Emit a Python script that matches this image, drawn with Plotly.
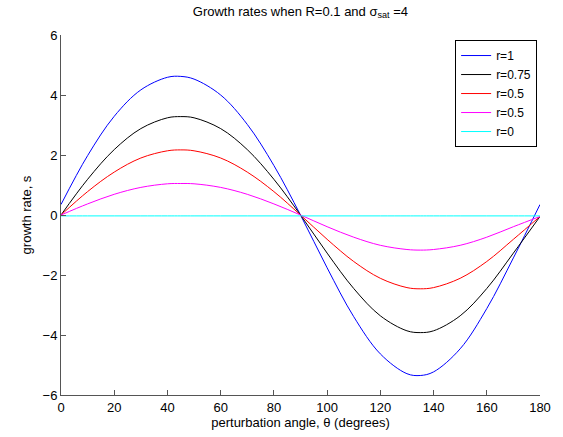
import plotly.graph_objects as go

# perturbation angle samples (degrees)
theta = [0, 10, 20, 30, 40, 45, 50, 60, 70, 80, 90,
         100, 110, 120, 130, 135, 140, 150, 160, 170, 180]

# growth rate s for each r
s_r1 = [0.35, 1.98, 3.29, 4.17, 4.59, 4.62, 4.53, 4.00, 3.02, 1.65, 0.0,
        -1.76, -3.39, -4.63, -5.29, -5.35, -5.23, -4.46, -3.12, -1.43, 0.35]
s_r075 = [0.0, 1.19, 2.18, 2.88, 3.24, 3.28, 3.24, 2.88, 2.18, 1.19, 0.0,
          -1.27, -2.45, -3.36, -3.86, -3.92, -3.86, -3.36, -2.45, -1.27, -0.05]
s_r05 = [0.0, 0.78, 1.43, 1.90, 2.14, 2.17, 2.14, 1.90, 1.43, 0.78, 0.0,
         -0.81, -1.55, -2.11, -2.42, -2.46, -2.42, -2.11, -1.55, -0.81, -0.05]
s_r05b = [0.0, 0.37, 0.69, 0.92, 1.04, 1.05, 1.04, 0.92, 0.69, 0.37, 0.0,
          -0.39, -0.74, -1.01, -1.15, -1.17, -1.15, -1.01, -0.74, -0.39, -0.05]
s_r0 = [-0.03] * len(theta)

names = ["r=1", "r=0.75", "r=0.5", "r=0.5", "r=0"]
colors = ["#0000ff", "#000000", "#ff0000", "#ff00ff", "#00ffff"]
series = [s_r1, s_r075, s_r05, s_r05b, s_r0]

xticks = [0, 20, 40, 60, 80, 100, 120, 140, 160, 180]
yticks = [-6, -4, -2, 0, 2, 4, 6]

FONT = "Liberation Sans, Arial"

fig = go.Figure()
for name, col, s in zip(names, colors, series):
    fig.add_trace(go.Scatter(x=theta, y=s, name=name, mode="lines",
                             line=dict(color=col, width=1, shape="spline",
                                       smoothing=1.0)))

axis_common = dict(showgrid=False, zeroline=False, showline=True,
                   linecolor="#555555", linewidth=1, ticks="inside",
                   ticklen=5, tickcolor="#555555", mirror=False,
                   tickfont=dict(family=FONT, size=13, color="#000000"))

fig.update_layout(
    width=563, height=437,
    margin=dict(l=61, r=23, t=35, b=39),
    paper_bgcolor="white", plot_bgcolor="white",
    font=dict(family=FONT, size=13, color="#000000"),
    title=dict(text="Growth rates when R=0.1 and σ<sub>sat</sub> =4",
               x=0.5336, xanchor="center", y=0.985, yanchor="top",
               font=dict(size=13)),
    xaxis=dict(range=[0, 180], tickvals=xticks,
               title=dict(text="perturbation angle, θ (degrees)",
                          standoff=1, font=dict(size=13)),
               **axis_common),
    yaxis=dict(range=[-6, 6], tickvals=yticks,
               title=dict(text="growth rate, s", standoff=8,
                          font=dict(size=13)),
               **axis_common),
    legend=dict(x=0.994, y=0.986, xanchor="right", yanchor="top",
                bgcolor="white", bordercolor="#000000", borderwidth=1,
                font=dict(size=12), tracegroupgap=0, itemwidth=30),
    showlegend=True,
)

fig.write_html("out.html")
